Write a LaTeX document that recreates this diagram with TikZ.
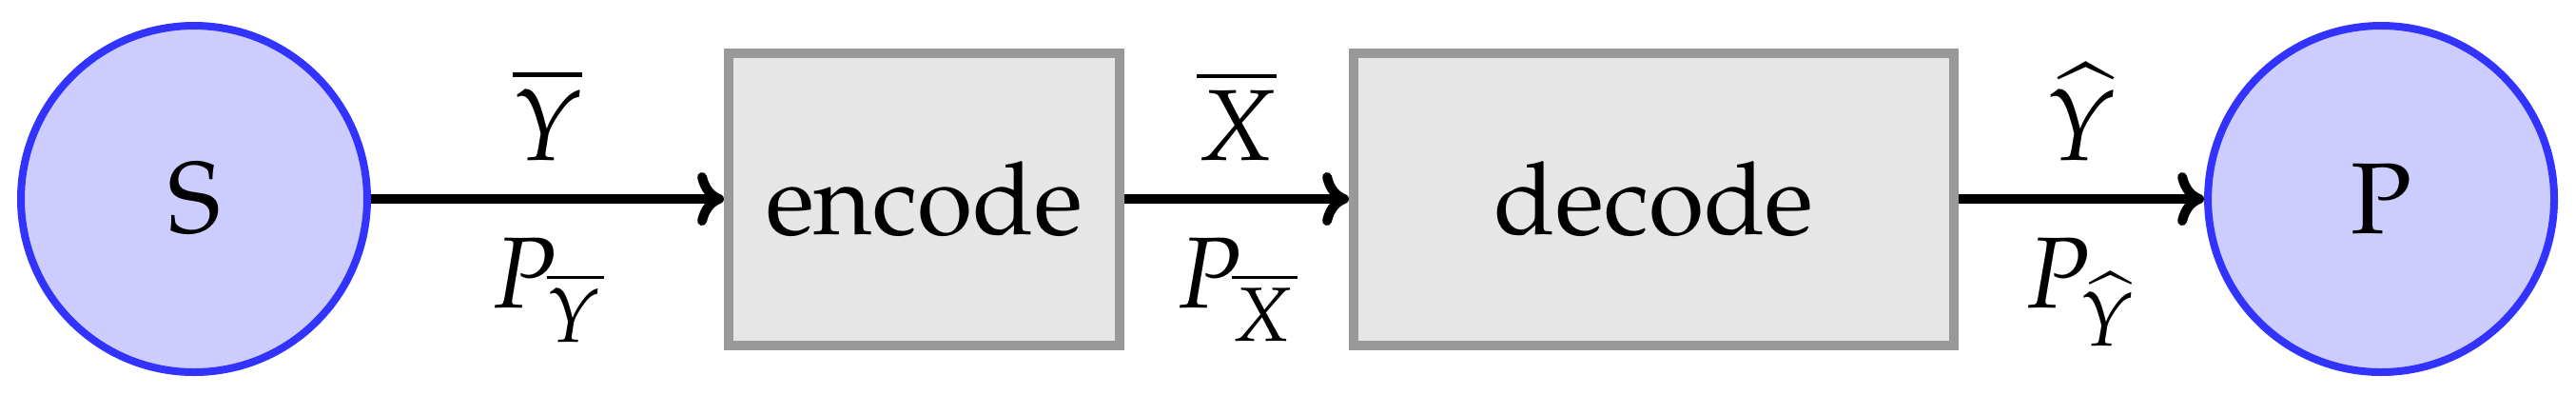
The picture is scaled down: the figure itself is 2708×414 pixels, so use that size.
\documentclass[tikz,border=0pt]{standalone}
\usepackage[T1]{fontenc}
\usepackage{mathpazo}
\usetikzlibrary{arrows.meta}
\definecolor{circfill}{HTML}{CCCCFF}
\definecolor{circdraw}{HTML}{3333FF}
\definecolor{boxfill}{HTML}{E6E6E6}
\definecolor{boxdraw}{HTML}{999999}
\begin{document}
\begin{tikzpicture}[x=0.1pt,y=0.1pt,
 font=\fontsize{10.6}{13}\selectfont,
 endpoint/.style={circle, draw=circdraw, fill=circfill, line width=0.8pt, minimum size=36.4pt, inner sep=0pt},
 procbox/.style={rectangle, draw=boxdraw, fill=boxfill, line width=1pt, minimum height=30.7pt, inner sep=0pt},
 flow/.style={line width=1pt, -{To[length=2.8pt,width=5.6pt]}},
 toplabel/.style={midway, anchor=base, yshift=4.1pt},
 botlabel/.style={midway, anchor=base, yshift=-11.4pt}]
\useasboundingbox (0,0) rectangle (2708,414);
\node[endpoint] (S) at (204,205) {S};
\node[procbox, minimum width=41.1pt] (enc) at (971.5,205) {encode};
\node[procbox, minimum width=63.1pt] (dec) at (1738.5,205) {decode};
\node[endpoint] (P) at (2503,205) {P};
\draw[flow] (S) -- node[toplabel]{$\overline{Y}$} node[botlabel]{$P_{\overline{Y}}$} (enc);
\draw[flow] (enc) -- node[toplabel]{$\overline{X}$} node[botlabel]{$P_{\overline{X}}$} (dec);
\draw[flow] (dec) -- node[toplabel]{$\widehat{Y}$} node[botlabel]{$P_{\widehat{Y}}$} (P);
\end{tikzpicture}
\end{document}
